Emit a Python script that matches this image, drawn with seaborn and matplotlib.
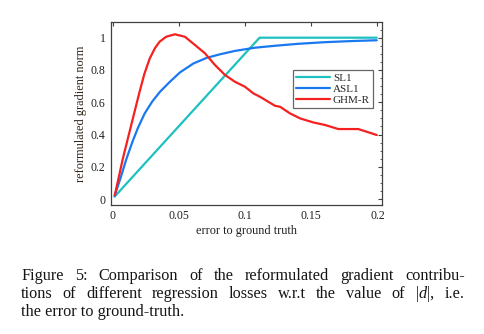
import numpy as np
import pandas as pd
import matplotlib
matplotlib.use("Agg")
import matplotlib.pyplot as plt
import seaborn as sns
from matplotlib.ticker import MultipleLocator, FixedLocator

# ---- data ----
sl1_x = [0.0015, 0.111, 0.1995]
sl1_y = [0.015, 1.0, 1.0]

asl1_x = [0.0015, 0.006, 0.0103, 0.015, 0.0191, 0.0242, 0.03, 0.0358, 0.0433, 0.0509,
          0.061, 0.071, 0.0811, 0.0924, 0.1076, 0.1227, 0.14, 0.16, 0.18, 0.1995]
asl1_y = [0.02, 0.13, 0.245, 0.355, 0.44, 0.53, 0.605, 0.665, 0.727, 0.785,
          0.84, 0.875, 0.897, 0.918, 0.938, 0.950, 0.962, 0.972, 0.979, 0.984]

ghm_x = [0.0017, 0.0078, 0.0141, 0.0204, 0.024, 0.028, 0.032, 0.0355, 0.0405, 0.047,
         0.0546, 0.0622, 0.0698, 0.0773, 0.0849, 0.0924, 0.1, 0.1063, 0.1113, 0.1176,
         0.1227, 0.1265, 0.134, 0.1416, 0.1516, 0.1605, 0.1705, 0.1856, 0.1995]
ghm_y = [0.025, 0.252, 0.459, 0.665, 0.775, 0.87, 0.935, 0.975, 1.006, 1.021,
         1.006, 0.955, 0.903, 0.831, 0.769, 0.727, 0.696, 0.655, 0.634, 0.603,
         0.578, 0.572, 0.531, 0.5, 0.475, 0.459, 0.434, 0.434, 0.397]

series_names = ["SL1", "ASL1", "GHM-R"]
series_colors = ["#1fc0c0", "#1a78f0", "#f52020"]
x_ticks = [0, 0.05, 0.1, 0.15, 0.2]
x_tick_labels = ["0", "0.05", "0.1", "0.15", "0.2"]
y_ticks = [0, 0.2, 0.4, 0.6, 0.8, 1.0]
y_tick_labels = ["0", "0.2", "0.4", "0.6", "0.8", "1"]
x_label = "error to ground truth"
y_label = "reformulated gradient norm"
caption = ["Figure 5: Comparison of the reformulated gradient contribu-",
           "tions of different regression losses w.r.t the value of $|d|$, i.e.",
           "the error to ground-truth."]
caption_justified = [True, True, False]

df = pd.concat([
    pd.DataFrame({"x": sl1_x, "y": sl1_y, "loss": "SL1"}),
    pd.DataFrame({"x": asl1_x, "y": asl1_y, "loss": "ASL1"}),
    pd.DataFrame({"x": ghm_x, "y": ghm_y, "loss": "GHM-R"}),
], ignore_index=True)

sns.set_theme(style="white")
plt.rcParams["font.family"] = ["Liberation Serif", "DejaVu Serif"]
plt.rcParams["mathtext.fontset"] = "custom"
plt.rcParams["mathtext.rm"] = "Liberation Serif"
plt.rcParams["mathtext.it"] = "Liberation Serif:italic"

W, H = 485, 334
fig = plt.figure(figsize=(W / 100, H / 100), dpi=100)
ax = fig.add_axes([0.228, 0.386, 0.560, 0.549])

sns.lineplot(data=df, x="x", y="y", hue="loss", hue_order=series_names,
             palette=dict(zip(series_names, series_colors)), estimator=None,
             sort=False, units="loss", linewidth=1.6, ax=ax)

ax.set_xlim(-0.0015, 0.2036)
ax.set_ylim(-0.037, 1.099)
ax.xaxis.set_major_locator(FixedLocator(x_ticks))
ax.set_xticklabels(x_tick_labels)
ax.yaxis.set_major_locator(FixedLocator(y_ticks))
ax.set_yticklabels(y_tick_labels)
ax.yaxis.set_minor_locator(MultipleLocator(0.05))
ax.tick_params(axis="both", which="both", direction="in", top=True, right=True,
               color="#404040", labelcolor="#202020", labelsize=8.5, pad=3.5)
ax.tick_params(which="major", length=3, width=0.8)
ax.tick_params(which="minor", length=1.8, width=0.6)
ax.tick_params(axis="x", which="minor", bottom=False, top=False)
for s in ax.spines.values():
    s.set_color("#404040")
    s.set_linewidth(0.9)
ax.set_xlabel(x_label, fontsize=8.8, color="#202020", labelpad=2)
ax.set_ylabel(y_label, fontsize=8.8, color="#302418", labelpad=3)

leg = ax.legend(loc="upper right", bbox_to_anchor=(0.967, 0.736), borderaxespad=0,
                fancybox=False, frameon=True, fontsize=8, handlelength=3.0,
                handletextpad=0.3, labelspacing=0.1, borderpad=0.3)
leg.get_frame().set_edgecolor("#404040")
leg.get_frame().set_linewidth(0.9)
for line in leg.get_lines():
    line.set_linewidth(1.6)

# ---- caption, justified word by word ----
cap_left, cap_right = 21, 465
baselines = [280, 298, 316]
cap_size = 11.7
fig.canvas.draw()
renderer = fig.canvas.get_renderer()
for txt, base, just in zip(caption, baselines, caption_justified):
    yy = 1 - base / H
    if not just:
        fig.text(cap_left / W, yy, txt, fontsize=cap_size, color="#151515",
                 ha="left", va="baseline")
        continue
    words = txt.split(" ")
    objs = [fig.text(0, yy, w, fontsize=cap_size, color="#151515", ha="left", va="baseline")
            for w in words]
    widths = [o.get_window_extent(renderer).width for o in objs]
    gap = (cap_right - cap_left - sum(widths)) / (len(words) - 1)
    xpos = cap_left
    for o, wd in zip(objs, widths):
        o.set_x(xpos / W)
        xpos += wd + gap

fig.savefig("out.png", dpi=100)
